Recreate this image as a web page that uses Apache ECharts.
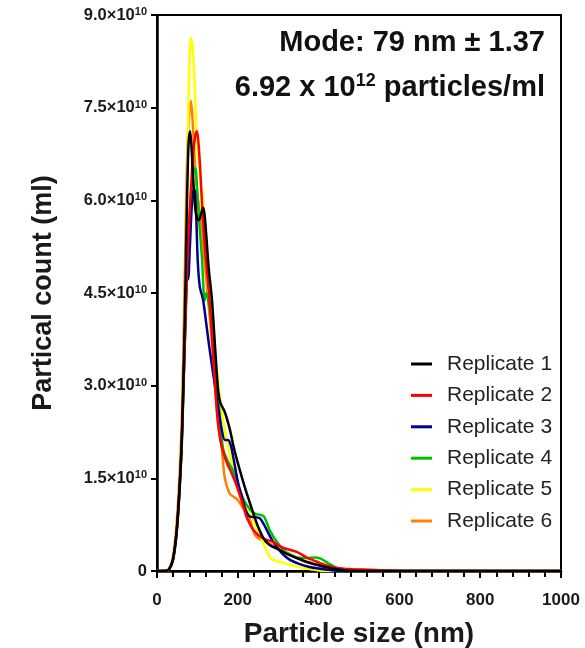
<!DOCTYPE html>
<html>
<head>
<meta charset="utf-8">
<script src="https://cdn.jsdelivr.net/npm/echarts@6/dist/echarts.min.js"></script>
<style>
html,body{margin:0;padding:0;background:#fff;}
#chart{width:585px;height:648px;}
</style>
</head>
<body>
<div id="chart"></div>
<script>
// Particle size (nm) vs particle count (units of 10^10 per ml)
const seriesNames = ['Replicate 1','Replicate 2','Replicate 3','Replicate 4','Replicate 5','Replicate 6'];
const seriesColors = ['#000000','#ff0000','#000090','#00c000','#ffff00','#ff8000'];
const xTicks = [0,200,400,600,800,1000];
const yTicks = [0,1.5,3.0,4.5,6.0,7.5,9.0];

const rep1 = [[0,0],[20,0],[30,0.03],[40,0.2],[50,0.75],[60,1.9],[65,3.0],[70,4.5],[74,5.9],[78,6.9],[82,7.12],[86,6.8],[90,6.3],[95,5.85],[100,5.7],[104,5.68],[110,5.8],[115,5.88],[120,5.6],[128,4.9],[136,4.39],[145,3.5],[151,2.95],[157,2.72],[168,2.57],[180,2.3],[190,2.0],[200,1.75],[210,1.52],[220,1.3],[230,1.1],[240,0.9],[250,0.72],[262,0.55],[275,0.44],[287,0.39],[300,0.35],[320,0.28],[346,0.21],[370,0.15],[396,0.1],[420,0.06],[445,0.03],[470,0.01],[500,0],[1000,0]];
const rep2 = [[0,0],[20,0],[30,0.03],[40,0.2],[50,0.75],[60,1.9],[65,2.9],[70,4.0],[75,5.0],[80,5.7],[85,6.3],[90,6.8],[95,7.05],[99,7.12],[103,6.9],[107,6.5],[111,6.0],[119,5.2],[131,4.3],[140,3.4],[148,2.6],[156,2.15],[165,1.9],[175,1.72],[185,1.58],[195,1.42],[205,1.23],[215,1.02],[222,0.87],[240,0.65],[262,0.53],[287,0.47],[310,0.38],[346,0.31],[370,0.22],[396,0.15],[420,0.09],[445,0.05],[480,0.03],[520,0.02],[560,0.01],[620,0],[1000,0]];
const rep3 = [[0,0],[20,0],[30,0.03],[40,0.2],[50,0.75],[60,1.9],[65,2.9],[70,4.0],[74,4.8],[77,4.72],[81,5.2],[86,5.9],[90,6.15],[93,6.17],[97,5.75],[101,5.0],[106,4.6],[114,4.39],[122,4.0],[130,3.6],[140,3.15],[150,2.7],[160,2.3],[168,2.12],[175,2.12],[182,2.05],[190,1.8],[200,1.45],[210,1.2],[220,0.98],[230,0.88],[245,0.87],[255,0.85],[265,0.75],[272,0.66],[285,0.5],[297,0.39],[310,0.28],[329,0.18],[350,0.12],[375,0.07],[400,0.04],[425,0.02],[450,0],[1000,0]];
const rep4 = [[0,0],[20,0],[30,0.02],[40,0.18],[50,0.7],[60,1.8],[65,2.8],[70,3.9],[75,4.9],[80,5.6],[85,6.15],[90,6.45],[95,6.52],[100,6.1],[105,5.6],[111,5.1],[118,4.38],[122,4.5],[128,4.35],[135,3.95],[145,3.3],[155,2.55],[163,2.0],[175,1.78],[188,1.63],[200,1.4],[215,1.15],[230,1.0],[245,0.92],[255,0.91],[265,0.88],[280,0.65],[297,0.47],[320,0.3],[346,0.22],[370,0.21],[390,0.22],[405,0.2],[425,0.12],[445,0.05],[460,0.02],[480,0],[1000,0]];
const rep5 = [[0,0],[20,0],[30,0.03],[40,0.22],[50,0.8],[60,2.0],[65,3.0],[70,4.4],[75,6.3],[78,7.6],[81,8.4],[84,8.63],[89,8.4],[94,7.75],[98,7.0],[102,6.7],[108,6.35],[114,6.0],[120,5.3],[130,4.3],[140,3.7],[151,3.1],[160,2.6],[170,2.2],[180,1.9],[190,1.6],[200,1.4],[210,1.2],[220,1.05],[230,0.95],[240,0.8],[250,0.65],[260,0.5],[267,0.39],[280,0.22],[290,0.17],[304,0.15],[320,0.12],[340,0.08],[360,0.05],[380,0.03],[400,0.01],[430,0],[1000,0]];
const rep6 = [[0,0],[20,0],[30,0.03],[40,0.25],[50,0.9],[60,2.2],[65,3.5],[70,5.2],[75,6.8],[80,7.4],[84,7.61],[88,7.3],[92,6.8],[96,6.4],[100,6.1],[106,5.8],[112,5.5],[118,5.0],[125,4.5],[132,4.0],[140,3.4],[151,2.4],[160,2.0],[168,1.5],[180,1.25],[190,1.2],[200,1.15],[210,1.05],[220,0.95],[230,0.83],[240,0.62],[247,0.55],[260,0.5],[275,0.46],[290,0.4],[310,0.33],[330,0.27],[350,0.2],[370,0.14],[396,0.1],[420,0.06],[445,0.03],[470,0.02],[500,0.02],[530,0.015],[560,0.01],[600,0],[1000,0]];
const seriesData = [rep1, rep2, rep3, rep4, rep5, rep6];

const FONT = '"Liberation Sans", Arial, Helvetica, sans-serif';
const chart = echarts.init(document.getElementById('chart'), null, {renderer:'canvas'});

const option = {
  backgroundColor:'#ffffff',
  animation:false,
  grid:{left:157, right:24, top:15, bottom:77, show:true, borderColor:'#000', borderWidth:2,
        backgroundColor:'transparent', containLabel:false, outerBoundsMode:'none'},
  xAxis:{
    type:'value', min:0, max:1000, interval:200,
    name:'Particle size (nm)', nameLocation:'middle', nameGap:49,
    nameTextStyle:{fontFamily:FONT, fontWeight:'bold', fontSize:28, color:'#1a1a1a'},
    axisLine:{show:true, lineStyle:{color:'#000', width:2.5}},
    axisTick:{show:true, length:7, lineStyle:{color:'#000', width:2}},
    minorTick:{show:true, splitNumber:5, length:6, lineStyle:{color:'#000', width:2}},
    splitLine:{show:false}, minorSplitLine:{show:false},
    axisLabel:{fontFamily:FONT, fontWeight:'bold', fontSize:17, color:'#1a1a1a', margin:21,
      formatter:v => xTicks.includes(v) ? String(v) : ''}
  },
  yAxis:{
    type:'value', min:0, max:9, interval:1.5,
    name:'Partical count (ml)', nameLocation:'middle', nameGap:100, nameRotate:90,
    nameTextStyle:{fontFamily:FONT, fontWeight:'bold', fontSize:27, color:'#1a1a1a'},
    axisLine:{show:true, lineStyle:{color:'#000', width:2.5}},
    axisTick:{show:true, length:6, lineStyle:{color:'#000', width:2}},
    splitLine:{show:false},
    axisLabel:{margin:10,
      formatter:v => {
        const t = yTicks.find(k => Math.abs(k - v) < 1e-6);
        if (t === undefined) return '';
        if (t === 0) return '{m|0}';
        return '{m|' + t.toFixed(1) + '×10}{s|10}';
      },
      rich:{
        m:{fontFamily:FONT, fontWeight:'bold', fontSize:16.5, color:'#1a1a1a', lineHeight:17},
        s:{fontFamily:FONT, fontWeight:'bold', fontSize:11, color:'#1a1a1a', lineHeight:11, verticalAlign:'top'}
      }
    }
  },
  legend:{
    show:true, orient:'vertical', left:406, top:348,
    itemWidth:21, itemHeight:3, itemGap:9.4, icon:'rect',
    textStyle:{fontFamily:FONT, fontSize:21, color:'#222', lineHeight:22, padding:[0,0,0,10]},
    data:seriesNames
  },
  graphic:[
    {type:'text', right:40, top:28, z:100, style:{
      text:'{b|Mode: 79 nm ± 1.37}',
      rich:{b:{fontFamily:FONT, fontWeight:'bold', fontSize:29, fill:'#111', lineHeight:32}}
    }},
    {type:'text', right:40, top:72, z:100, style:{
      text:'{b|6.92 x 10}{s|12}{b| particles/ml}',
      rich:{
        b:{fontFamily:FONT, fontWeight:'bold', fontSize:29, fill:'#111', lineHeight:32},
        s:{fontFamily:FONT, fontWeight:'bold', fontSize:18, fill:'#111', lineHeight:18, verticalAlign:'top'}
      }
    }}
  ],
  series: seriesNames.map((n, i) => ({
    name:n, type:'line', data:seriesData[i], showSymbol:false, symbol:'none',
    smooth:0.3, z: 10 - i,
    lineStyle:{color:seriesColors[i], width:2.5},
    itemStyle:{color:seriesColors[i]}
  }))
};
chart.setOption(option);
</script>
</body>
</html>
